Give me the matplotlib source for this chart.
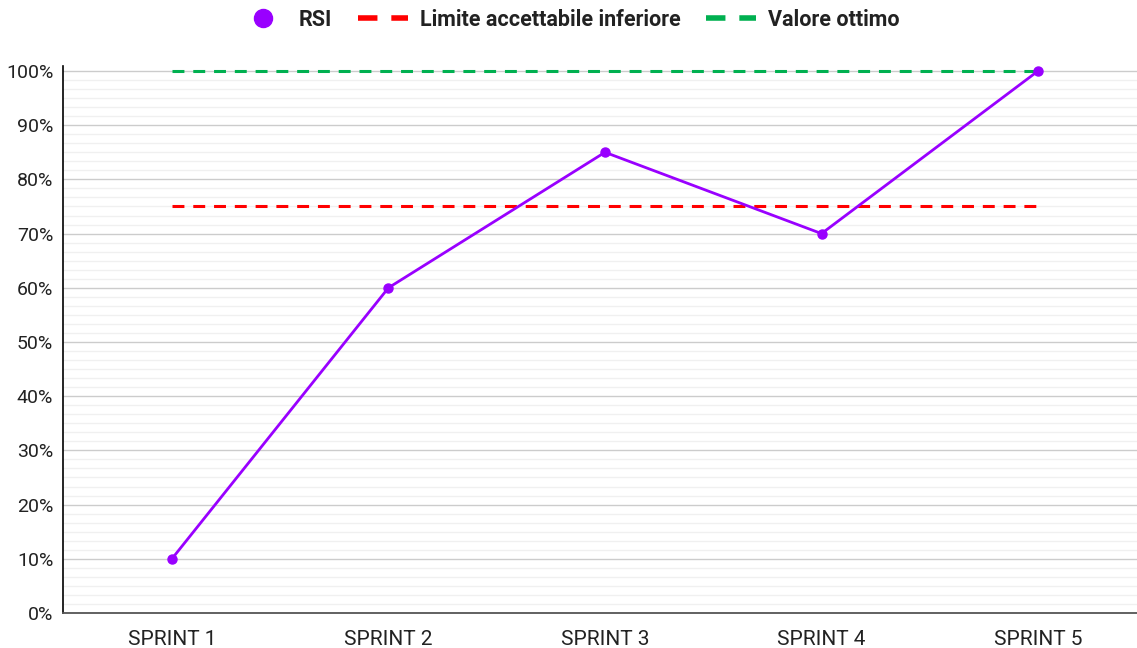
import matplotlib.pyplot as plt
from matplotlib.ticker import MultipleLocator, AutoMinorLocator, PercentFormatter
from matplotlib.lines import Line2D

plt.rcParams['font.family'] = ['Roboto', 'DejaVu Sans']

sprints = ['SPRINT 1', 'SPRINT 2', 'SPRINT 3', 'SPRINT 4', 'SPRINT 5']
rsi = [10, 60, 85, 70, 100]
limite_inferiore = [75, 75, 75, 75, 75]
valore_ottimo = [100, 100, 100, 100, 100]

purple = '#9900ff'
red = '#ff0000'
green = '#00b050'

fig = plt.figure(figsize=(11.37, 6.48), dpi=100)
ax = fig.add_axes([63 / 1137, 1 - 613 / 648, (1137 - 63) / 1137, (613 - 66) / 648])

x = range(len(sprints))
ax.plot(x, limite_inferiore, color=red, lw=2.2, dashes=(3.9, 2.9), zorder=3)
ax.plot(x, valore_ottimo, color=green, lw=2.2, dashes=(3.9, 2.9), zorder=3)
ax.plot(x, rsi, color=purple, lw=2, marker='o', ms=6.5, zorder=4)

ax.set_xlim(-0.503, 4.457)
ax.set_ylim(0, 100.92)
ax.set_xticks(list(x))
ax.set_xticklabels(sprints)
ax.yaxis.set_major_locator(MultipleLocator(10))
ax.yaxis.set_minor_locator(AutoMinorLocator(6))
ax.yaxis.set_major_formatter(PercentFormatter(decimals=0))
ax.tick_params(axis='both', which='both', length=0, colors='#222222')
ax.tick_params(axis='x', labelsize=15, pad=12)
ax.tick_params(axis='y', labelsize=14, pad=7)

ax.grid(True, which='major', axis='y', color='#cccccc', lw=1)
ax.grid(True, which='minor', axis='y', color='#f0f0f0', lw=1)
ax.set_axisbelow(True)

for s in ['top', 'right']:
    ax.spines[s].set_visible(False)
ax.spines['left'].set_color('#000000')
ax.spines['bottom'].set_color('#555555')
ax.spines['left'].set_linewidth(1.2)
ax.spines['bottom'].set_linewidth(1.3)

handles = [
    Line2D([], [], color=purple, marker='o', ls='none', ms=13),
    Line2D([], [], color=red, lw=4, dashes=(3.5, 2.5)),
    Line2D([], [], color=green, lw=4, dashes=(3.5, 2.5)),
]
labels = ['RSI', 'Limite accettabile inferiore', 'Valore ottimo']
leg = fig.legend(handles, labels, loc='center', bbox_to_anchor=(0.5, 1 - 20 / 648), ncol=3,
                 frameon=False, prop={'weight': 'bold', 'size': 15.5}, handlelength=2.3,
                 columnspacing=1.2, handletextpad=0.55)
for t in leg.get_texts():
    t.set_color('#222222')

fig.savefig('out.png', dpi=100)
